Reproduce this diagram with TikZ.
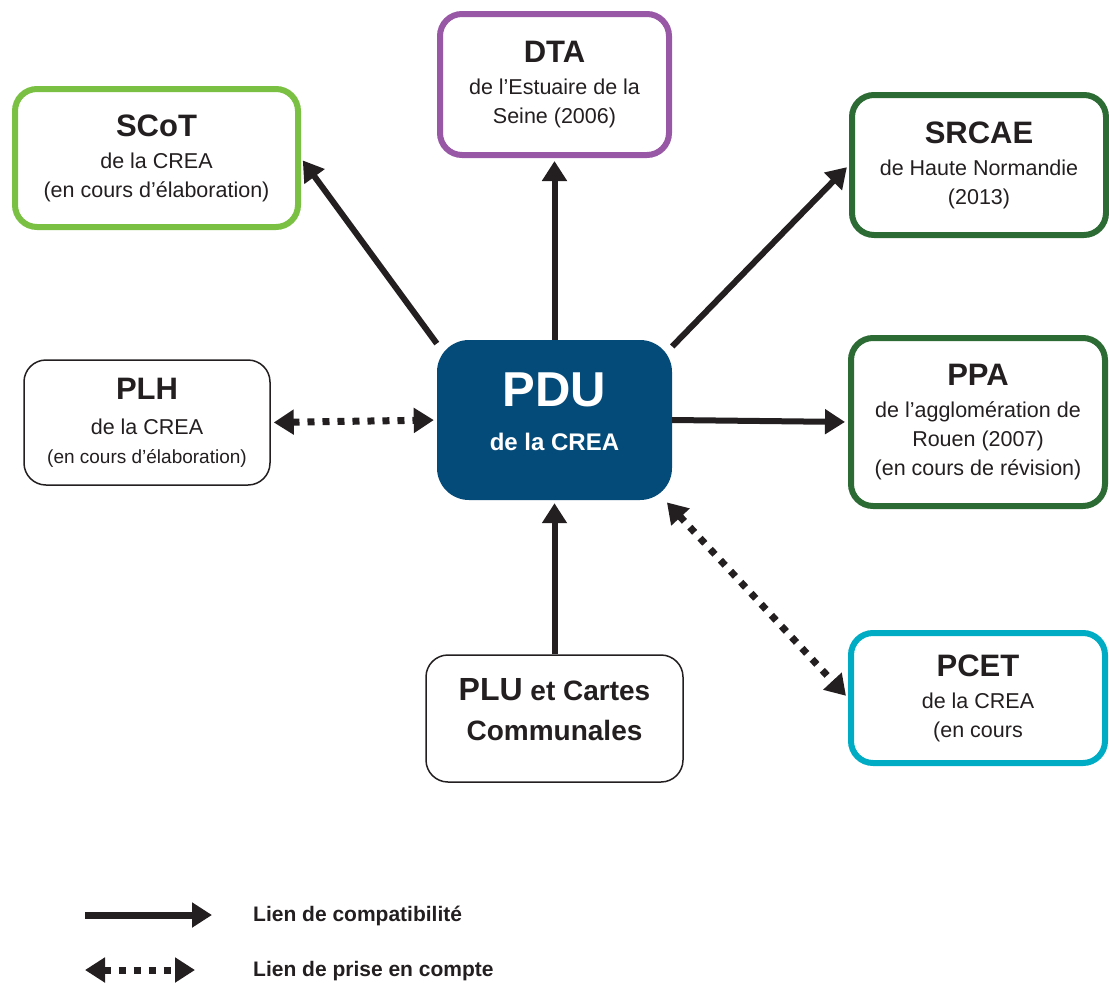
\documentclass[tikz,border=0pt]{standalone}
\usepackage{fontspec}
\setmainfont{Liberation Sans}
\usetikzlibrary{arrows.meta}

\definecolor{ink}{RGB}{35,31,32}
\definecolor{crea-blue}{RGB}{5,75,122}
\definecolor{scot-green}{RGB}{122,193,67}
\definecolor{dta-purple}{RGB}{152,88,166}
\definecolor{region-green}{RGB}{45,107,53}
\definecolor{pcet-cyan}{RGB}{0,171,196}

\begin{document}
\begin{tikzpicture}[x=1pt,y=-1pt,>={Triangle[length=20pt,width=24pt]}]
	\useasboundingbox (0,0) rectangle (1109,983);
	\def\titre#1{{\fontsize{31}{36}\selectfont\bfseries #1}}
	\tikzstyle{plan-node}=[rectangle,rounded corners=22pt,line width=6pt,fill=white,align=center,text=ink,inner sep=0pt,font=\fontsize{21.5}{29}\selectfont]
	\tikzstyle{thin-node}=[plan-node,line width=1.5pt,draw=ink]
	\tikzstyle{pdu-node}=[rectangle,rounded corners=32pt,fill=crea-blue,text=white,align=center,inner sep=0pt,font=\fontsize{24}{44}\selectfont\bfseries]
	\tikzstyle{comp-link}=[->,line width=6pt,draw=ink,shorten >=3pt]
	\tikzstyle{prise-link}=[<->,line width=7pt,draw=ink,dash pattern=on 7pt off 8pt,shorten >=3pt,shorten <=3pt]
	\tikzstyle{annot}=[anchor=west,text=ink,inner sep=0pt,font=\fontsize{21}{25}\selectfont\bfseries]

	% central plan
	\node[pdu-node,minimum width=235,minimum height=160,text depth=16pt] (pdu) at (554.5,420)
		{{\fontsize{49}{56}\selectfont PDU}\\de la CREA};

	% upper plans
	\node[plan-node,draw=scot-green,minimum width=283,minimum height=138] (scot) at (156.5,158)
		{\titre{SCoT}\\[3pt]de la CREA\\(en cours d’élaboration)};
	\node[plan-node,draw=dta-purple,minimum width=229,minimum height=141] (dta) at (554.5,84.5)
		{\titre{DTA}\\[3pt]de l’Estuaire de la\\Seine (2006)};
	\node[plan-node,draw=region-green,minimum width=254,minimum height=140] (srcae) at (979,165)
		{\titre{SRCAE}\\[3pt]de Haute Normandie\\(2013)};

	% side plans
	\node[thin-node,minimum width=246,minimum height=125] (plh) at (147,422.5)
		{\titre{PLH}\\[6pt]de la CREA\\{\fontsize{19}{26}\selectfont(en cours d’élaboration)}};
	\node[plan-node,draw=region-green,minimum width=254,minimum height=168] (ppa) at (978,422)
		{\titre{PPA}\\[3pt]de l’agglomération de\\Rouen (2007)\\(en cours de révision)};
	\node[plan-node,draw=pcet-cyan,minimum width=254,minimum height=130] (pcet) at (978,698)
		{\titre{PCET}\\[3pt]de la CREA\\(en cours};

	% lower plans
	\node[thin-node,minimum width=257,minimum height=127,text depth=18pt,font=\fontsize{28}{40}\selectfont\bfseries] (plu) at (554.5,718.5)
		{{\fontsize{32}{36}\selectfont PLU} et Cartes\\Communales};

	% links
	\path
		(pdu.147)	edge[comp-link]	(scot.east)
		(pdu.north)	edge[comp-link]	(dta.south)
		(pdu.32)	edge[comp-link]	(srcae.west)
		(pdu.east)	edge[comp-link]	(ppa.west)
		(plu.north)	edge[comp-link]	(pdu.south)
		(plh.east)	edge[prise-link]	(pdu.west)
		(pdu.-36)	edge[prise-link]	(pcet.west);

	% legend
	\coordinate (comp-a) at (85,915);
	\coordinate (comp-b) at (212,915);
	\coordinate (prise-a) at (85,970);
	\coordinate (prise-b) at (195,970);
	\draw[->,line width=7pt,draw=ink] (comp-a) -- (comp-b);
	\draw[<->,line width=7pt,draw=ink,dash pattern=on 7pt off 8pt] (prise-a) -- (prise-b);
	\node[annot] (comp-text) at (253,916) {Lien de compatibilité};
	\node[annot] (prise-text) at (253,971) {Lien de prise en compte};
\end{tikzpicture}
\end{document}
